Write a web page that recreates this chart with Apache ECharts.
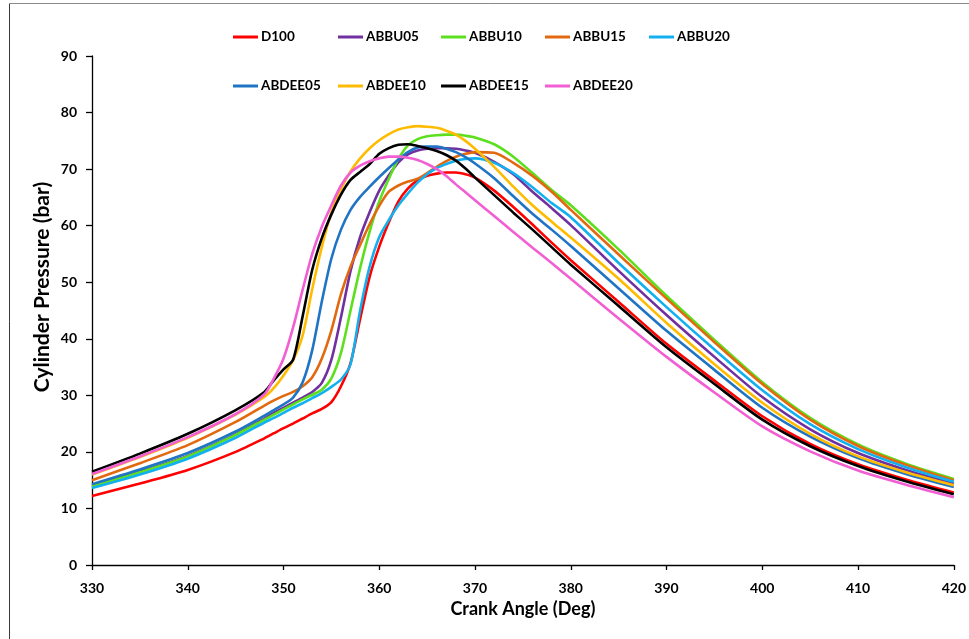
<!DOCTYPE html>
<html>
<head>
<meta charset="utf-8">
<script src="https://cdn.jsdelivr.net/npm/echarts@6/dist/echarts.min.js"></script>
<style>
html,body{margin:0;padding:0;background:#fff;}
#chart{width:969px;height:639px;}
</style>
</head>
<body>
<div id="chart"></div>
<script>
// Crank angle (deg)
const angles = [330,335,340,345,348,349,350,351,352,353,354,355,356,357,358,359,360,361,362,363,364,365,366,367,368,369,370,372,374,376,378,380,385,390,395,400,405,410,415,420];

const seriesNames = ['D100','ABBU05','ABBU10','ABBU15','ABBU20','ABDEE05','ABDEE10','ABDEE15','ABDEE20'];
const seriesColors = ['#ff0000','#7030a0','#5ce01e','#e2690f','#12b0ee','#1f74c4','#ffbb00','#000000','#f25fd2'];

const D100    = [12.2,14.4,16.8,20.0,22.4,23.3,24.2,25.0,25.9,26.8,27.6,28.8,31.6,35.7,43.5,51.0,56.3,60.6,64.3,66.6,68.0,68.8,69.2,69.4,69.4,69.1,68.5,66.2,63.3,60.2,57.0,53.9,46.5,39.1,32.6,26.3,21.4,17.8,15.1,12.8];
const ABBU05  = [14.0,16.5,19.3,23.1,25.9,26.9,27.8,28.7,29.6,30.6,32.2,36.3,43.8,52.0,58.0,62.4,66.2,68.9,71.2,72.6,73.3,73.6,73.7,73.7,73.6,73.3,72.9,71.3,69.1,66.0,63.1,60.1,52.0,44.2,36.8,29.7,24.0,19.8,16.8,14.4];
const ABBU10  = [13.9,16.4,19.2,23.0,25.7,26.6,27.5,28.4,29.3,30.1,31.0,33.0,37.5,45.0,52.5,59.0,64.3,68.3,71.8,74.2,75.3,75.8,76.0,76.1,76.1,75.9,75.6,74.4,72.2,69.3,66.3,63.6,55.8,47.6,39.8,32.3,26.0,21.3,17.9,15.2];
const ABBU15  = [15.0,18.0,21.2,25.3,28.2,29.1,29.9,30.6,31.6,33.2,36.5,41.5,47.9,52.8,56.6,60.3,63.5,66.0,67.1,67.8,68.3,69.3,70.4,71.4,72.2,72.7,73.0,72.9,71.1,68.8,66.0,62.8,54.9,47.1,39.4,32.0,25.7,21.05,17.7,15.0];
const ABBU20  = [13.6,16.0,18.8,22.5,25.2,26.0,26.9,27.8,28.6,29.5,30.4,31.5,32.8,35.5,45.0,52.8,58.0,61.0,63.6,65.7,67.6,69.1,70.2,70.9,71.5,71.8,71.9,71.1,69.3,66.8,64.0,61.5,53.4,45.6,38.1,30.9,24.9,20.5,17.3,14.7];
const ABDEE05 = [14.3,16.9,19.8,23.6,26.4,27.4,28.4,29.6,32.3,38.0,46.6,54.2,59.3,62.8,65.1,66.9,68.6,70.2,71.7,73.0,73.8,74.0,74.0,73.6,73.0,72.1,71.0,68.4,65.2,62.1,59.3,56.4,48.9,41.4,34.5,27.8,22.7,18.9,16.1,13.8];
const ABDEE10 = [16.0,19.1,22.5,26.6,29.7,31.3,33.5,36.2,40.6,48.8,56.2,62.4,66.4,69.6,71.9,73.7,75.1,76.2,77.0,77.4,77.6,77.5,77.3,76.8,76.1,75.0,73.6,70.4,66.9,63.6,60.7,57.9,50.6,42.8,35.5,28.7,23.2,19.2,16.4,14.1];
const ABDEE15 = [16.5,19.7,23.2,27.4,30.6,32.7,34.6,36.3,44.0,52.2,57.8,62.0,65.5,68.1,69.5,70.9,72.7,73.7,74.3,74.4,74.1,73.7,73.2,72.5,71.5,70.1,68.5,65.4,62.3,59.3,56.2,53.1,45.8,38.5,32.0,25.7,21.0,17.5,14.8,12.5];
const ABDEE20 = [16.1,19.2,22.6,26.7,30.2,33.0,36.5,42.0,48.7,55.0,59.8,63.6,67.1,69.4,70.6,71.4,71.9,72.2,72.2,72.0,71.6,70.9,70.0,68.8,67.3,65.9,64.5,61.7,58.9,56.1,53.4,50.6,43.6,36.8,30.5,24.5,20.1,16.7,14.2,12.0];

const seriesValues = [D100,ABBU05,ABBU10,ABBU15,ABBU20,ABDEE05,ABDEE10,ABDEE15,ABDEE20];

const xTicks = [330,340,350,360,370,380,390,400,410,420];
const yTicks = [0,10,20,30,40,50,60,70,80,90];

const FONT = 'Lato';
const chart = echarts.init(document.getElementById('chart'), null, {renderer:'canvas'});

// legend layout: 5 in row 1, 4 in row 2
const legendCols = [233, 338, 441, 545, 649];
const legendRows = [30, 79];
const legends = seriesNames.map((n, i) => ({
  data: [n],
  left: legendCols[i < 5 ? i : i - 5],
  top: legendRows[i < 5 ? 0 : 1],
  padding: 0,
  itemWidth: 25,
  itemHeight: 3,
  icon: 'rect',
  itemGap: 0,
  selectedMode: false,
  textStyle: {fontFamily: FONT, fontWeight: 'bold', fontSize: 13.5, color: '#000', padding: [0,0,0,-2]}
}));

const option = {
  backgroundColor: '#fff',
  animation: false,
  legend: legends,
  grid: {left: 92, right: 15, top: 56, bottom: 74, containLabel: false},
  xAxis: {
    type: 'value', min: 330, max: 420, interval: 10,
    name: 'Crank Angle (Deg)', nameLocation: 'middle', nameGap: 35,
    nameTextStyle: {fontFamily: FONT, fontWeight: 'bold', fontSize: 18, color: '#000'},
    axisLine: {show: true, onZero: false, lineStyle: {color: '#000', width: 1.3}},
    axisTick: {show: true, inside: false, length: 5, lineStyle: {color: '#000', width: 1.3}},
    axisLabel: {fontFamily: FONT, fontWeight: 'bold', fontSize: 14, color: '#000', margin: 16,
      formatter: v => xTicks.includes(v) ? String(v) : ''},
    splitLine: {show: false}
  },
  yAxis: {
    type: 'value', min: 0, max: 90, interval: 10,
    axisLine: {show: true, onZero: false, lineStyle: {color: '#000', width: 1.3}},
    axisTick: {show: true, inside: false, length: 6, lineStyle: {color: '#000', width: 1.3}},
    axisLabel: {fontFamily: FONT, fontWeight: 'bold', fontSize: 14, color: '#000', margin: 15,
      formatter: v => yTicks.includes(v) ? String(v) : ''},
    splitLine: {show: false}
  },
  graphic: [
    {type: 'line', shape: {x1: 9.5, y1: 3.5, x2: 9.5, y2: 639}, style: {stroke: '#3a3a3a', lineWidth: 1}},
    {type: 'line', shape: {x1: 9.5, y1: 3.5, x2: 969, y2: 3.5}, style: {stroke: '#8a8a8a', lineWidth: 1}},
    {type: 'text', x: 42, y: 287, rotation: Math.PI / 2,
      style: {text: 'Cylinder Pressure (bar)', fontFamily: FONT, fontWeight: 'bold', fontSize: 21,
        fill: '#000', align: 'center', verticalAlign: 'middle'}}
  ],
  series: seriesNames.map((n, i) => ({
    name: n,
    type: 'line',
    data: angles.map((a, k) => [a, seriesValues[i][k]]),
    showSymbol: false,
    symbol: 'none',
    smooth: 0.25,
    color: seriesColors[i],
    lineStyle: {color: seriesColors[i], width: 2.6},
    z: 2 + i
  }))
};
chart.setOption(option);
</script>
</body>
</html>
